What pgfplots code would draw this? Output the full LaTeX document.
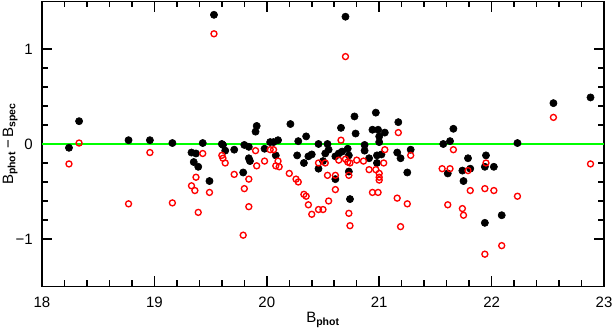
\documentclass[border=0pt]{standalone}
\usepackage{fontspec}
\setmainfont{Liberation Sans}
\usepackage{pgfplots}
\pgfplotsset{compat=1.18}
\definecolor{ZeroGreen}{RGB}{0,255,0}

% B_phot, B_phot - B_spec for the two estimates
\pgfplotstableread{
x y
18.24 -0.04
18.33 0.24
18.77 0.04
18.96 0.04
19.16 0.01
19.33 -0.09
19.37 -0.10
19.35 -0.19
19.39 -0.24
19.43 0.01
19.49 -0.39
19.53 1.36
19.60 0.00
19.61 -0.01
19.63 -0.07
19.71 -0.06
19.80 -0.01
19.84 -0.03
19.84 -0.15
19.85 -0.18
19.79 -0.30
19.90 0.13
19.91 0.19
19.98 -0.05
20.03 0.02
20.06 0.02
20.10 0.04
20.08 -0.12
20.21 0.21
20.28 0.03
20.35 0.08
20.27 -0.12
20.33 -0.20
20.37 -0.13
20.40 -0.11
20.46 0.00
20.46 -0.26
20.50 -0.18
20.52 -0.10
20.54 0.00
20.55 -0.06
20.61 -0.37
20.66 0.17
20.61 -0.13
20.64 -0.10
20.67 -0.08
20.70 1.34
20.72 -0.05
20.73 -0.12
20.78 0.29
20.79 0.11
20.73 -0.29
20.74 -0.58
20.87 -0.01
20.87 -0.07
20.91 -0.15
20.94 0.15
20.99 0.15
20.97 0.33
21.05 0.12
21.00 0.08
21.00 0.02
20.98 -0.12
21.02 -0.11
20.98 -0.20
21.17 0.23
21.16 -0.09
21.19 -0.15
21.28 -0.06
21.25 -0.30
21.57 0.00
21.63 0.03
21.66 0.16
21.61 -0.31
21.79 -0.15
21.74 -0.28
21.81 -0.26
21.75 -0.39
21.95 -0.12
21.94 -0.24
22.02 -0.24
21.94 -0.83
22.09 -0.75
22.23 0.01
22.55 0.43
22.88 0.49
}\blackpts

\pgfplotstableread{
x y
18.24 -0.21
18.33 0.01
18.77 -0.63
18.96 -0.09
19.16 -0.62
19.53 1.16
19.43 -0.10
19.60 -0.12
19.61 -0.15
19.63 -0.20
19.37 -0.35
19.33 -0.44
19.36 -0.49
19.49 -0.51
19.39 -0.72
19.71 -0.32
19.84 -0.37
19.80 -0.47
19.84 -0.66
19.79 -0.96
19.90 -0.07
19.91 -0.23
19.98 -0.18
20.03 -0.06
20.06 -0.06
20.10 -0.18
20.08 -0.23
20.11 -0.24
20.20 -0.31
20.26 -0.37
20.28 -0.40
20.33 -0.53
20.35 -0.55
20.37 -0.64
20.40 -0.74
20.46 -0.69
20.50 -0.69
20.55 -0.60
20.61 -0.48
20.54 -0.33
20.61 -0.33
20.46 -0.20
20.52 -0.20
20.66 0.04
20.64 -0.17
20.70 -0.16
20.72 -0.19
20.74 -0.20
20.73 -0.33
20.73 -0.73
20.74 -0.86
20.70 0.92
20.80 -0.17
20.86 -0.18
20.91 -0.27
20.94 -0.51
20.99 -0.51
20.97 -0.27
21.00 -0.31
21.00 -0.35
21.00 -0.38
21.04 -0.20
21.05 -0.06
21.17 0.12
21.28 -0.12
21.16 -0.57
21.25 -0.63
21.19 -0.87
21.66 -0.06
21.56 -0.26
21.63 -0.26
21.61 -0.64
21.79 -0.28
21.81 -0.49
21.74 -0.68
21.75 -0.75
21.95 -0.20
21.94 -0.47
22.02 -0.49
21.94 -1.16
22.09 -1.07
22.23 -0.55
22.55 0.28
22.88 -0.21
}\redpts

\begin{document}
\begin{tikzpicture}
\begin{axis}[
  scale only axis,
  width=374.7pt, height=190pt,
  xmin=18, xmax=23, ymin=-1.5, ymax=1.5,
  xtick={18,19,20,21,22,23},
  xticklabels={18,19,20,21,22,23},
  ytick={-1,0,1},
  yticklabels={−1,0,1},
  minor x tick num=4,
  minor y tick num=4,
  tick pos=both,
  tick align=inside,
  major tick length=6.7pt,
  minor tick length=4pt,
  axis line style={line width=1.3pt},
  every tick/.style={black, line width=1pt},
  x tick label style={yshift=-3.3pt},
  y tick label style={xshift=-2.6pt},
  every axis x label/.style={at={(axis description cs:0.5,0)}, yshift=-24.3pt, anchor=base},
  every axis y label/.style={at={(axis description cs:0,0.5)}, xshift=-19.3pt, rotate=90, anchor=base},
  xlabel={B\textsubscript{\textbf{phot}}},
  ylabel={B\textsubscript{\textbf{phot}}\,−\,B\textsubscript{\textbf{spec}}},
  clip=true,
]
\addplot[ZeroGreen, line width=1.2pt, forget plot] coordinates {(18,0) (23,0)};
\addplot[only marks, mark=*, mark size=2.4pt, mark options={fill=black, draw=black}]
  table[x=x, y=y] {\blackpts};
\addplot[only marks, mark=o, mark size=2.0pt, mark options={draw=red, line width=0.9pt}]
  table[x=x, y=y] {\redpts};
\end{axis}
\pgfresetboundingbox
\path[use as bounding box] ([shift={(-28pt,-28.3pt)}]current axis.south west)
  rectangle ([shift={(8pt,1pt)}]current axis.north east);
\end{tikzpicture}
\end{document}
